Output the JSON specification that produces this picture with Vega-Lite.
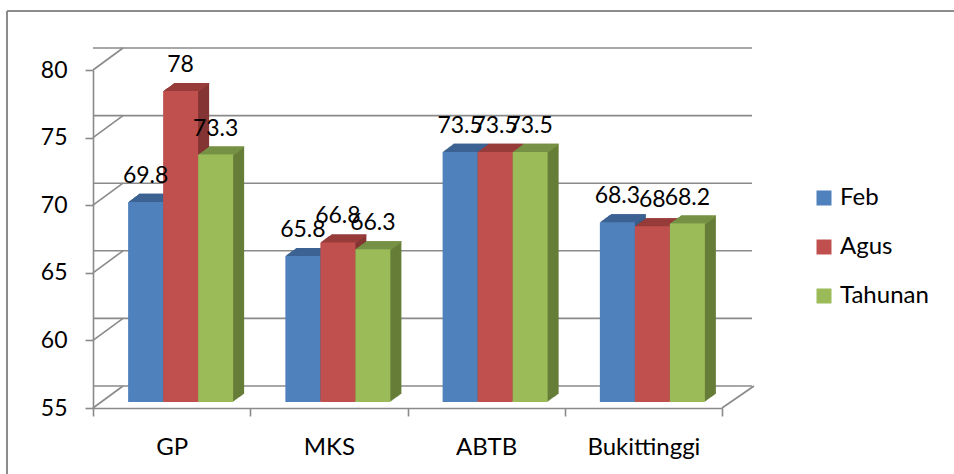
{
  "$schema": "https://vega.github.io/schema/vega-lite/v6.json",
  "autosize": "none",
  "width": 629,
  "height": 338,
  "padding": {"left": 93, "top": 70, "right": 232, "bottom": 66},
  "background": "white",
  "config": {"view": {"stroke": null}, "font": "Lato"},
  "datasets": {
    "vals": [
      {"region": "GP", "series": "Feb", "value": 69.8},
      {"region": "GP", "series": "Agus", "value": 78},
      {"region": "GP", "series": "Tahunan", "value": 73.3},
      {"region": "MKS", "series": "Feb", "value": 65.8},
      {"region": "MKS", "series": "Agus", "value": 66.8},
      {"region": "MKS", "series": "Tahunan", "value": 66.3},
      {"region": "ABTB", "series": "Feb", "value": 73.5},
      {"region": "ABTB", "series": "Agus", "value": 73.5},
      {"region": "ABTB", "series": "Tahunan", "value": 73.5},
      {"region": "Bukittinggi", "series": "Feb", "value": 68.3},
      {"region": "Bukittinggi", "series": "Agus", "value": 68},
      {"region": "Bukittinggi", "series": "Tahunan", "value": 68.2}
    ],
    "ticks": [{"t": 55}, {"t": 60}, {"t": 65}, {"t": 70}, {"t": 75}, {"t": 80}]
  },
  "data": {"name": "vals"},
  "resolve": {"scale": {"x": "independent", "xOffset": "independent"}, "axis": {"x": "independent"}},
  "layer": [
    {
      "description": "outer chart frame, top and left edges",
      "data": {"values": [{}]},
      "layer": [
        {"mark": {"type": "rule", "color": "#8c8c8c", "strokeWidth": 2},
         "encoding": {"x": {"value": -86}, "x2": {"value": -86}, "y": {"value": -59}, "y2": {"value": 404}}},
        {"mark": {"type": "rule", "color": "#8c8c8c", "strokeWidth": 2},
         "encoding": {"x": {"value": -86}, "x2": {"value": 861}, "y": {"value": -59}, "y2": {"value": -59}}}
      ]
    },
    {
      "description": "back wall gridlines and side wall diagonals",
      "data": {"name": "ticks"},
      "layer": [
        {"mark": {"type": "rule", "color": "#8a8a8a", "strokeWidth": 1.6, "xOffset": 30, "x2Offset": 30, "yOffset": -22},
         "encoding": {"y": {"field": "t", "type": "quantitative", "scale": {"domain": [55, 80], "nice": false, "zero": false}}}},
        {"mark": {"type": "rule", "color": "#8a8a8a", "strokeWidth": 1.6, "y2Offset": -22},
         "encoding": {"x": {"value": 0}, "x2": {"value": 30},
                      "y": {"field": "t", "type": "quantitative"}, "y2": {"field": "t"}}},
        {"transform": [{"filter": "datum.t === 55"}],
         "mark": {"type": "rule", "color": "#8a8a8a", "strokeWidth": 1.6, "y2Offset": -22},
         "encoding": {"x": {"value": 629}, "x2": {"value": 661},
                      "y": {"field": "t", "type": "quantitative"}, "y2": {"field": "t"}}}
      ]
    },
    {
      "description": "front plane carrying both axes (bars themselves are drawn further back)",
      "mark": {"type": "bar", "opacity": 0},
      "encoding": {
        "x": {"field": "region", "type": "nominal", "title": null,
              "scale": {"domain": ["GP", "MKS", "ABTB", "Bukittinggi"], "paddingInner": 0, "paddingOuter": 0, "range": [0, 629]},
              "axis": {"labelAngle": 0, "labelAlign": "center", "labelFont": "Lato", "labelFontSize": 24, "labelColor": "#000000",
                       "tickBand": "extent", "tickSize": 8, "tickColor": "#8a8a8a", "tickWidth": 1.6,
                       "domainColor": "#8a8a8a", "domainWidth": 1.6, "labelPadding": 19}},
        "y": {"field": "value", "type": "quantitative", "title": null,
              "scale": {"domain": [55, 80], "nice": false, "zero": false},
              "axis": {"values": [55, 60, 65, 70, 75, 80], "grid": false, "labelFont": "Lato", "labelFontSize": 23,
                       "labelColor": "#000000", "tickSize": 8, "tickColor": "#8a8a8a", "tickWidth": 1.6,
                       "domainColor": "#8a8a8a", "domainWidth": 1.6, "labelPadding": 18}},
        "y2": {"datum": 55}
      }
    },
    {"description": "depth slice 11",
     "encoding": {"x": {"field": "region", "type": "nominal", "axis": null, "scale": {"domain": ["GP", "MKS", "ABTB", "Bukittinggi"], "paddingInner": 0, "paddingOuter": 0, "range": [20, 649]}},
                  "xOffset": {"field": "series", "type": "nominal", "scale": {"domain": ["Feb", "Agus", "Tahunan"], "paddingInner": 0, "paddingOuter": 0.746}},
                  "y": {"field": "value", "type": "quantitative"}},
     "layer": [
       {"mark": {"type": "bar", "yOffset": -14.03, "y2Offset": -14.03},
        "encoding": {"y2": {"datum": 55}, "color": {"condition": [{"test": "datum.series === 'Feb'", "value": "#395d89"}, {"test": "datum.series === 'Agus'", "value": "#843533"}], "value": "#667d38"}}},
       {"mark": {"type": "bar", "yOffset": -14.03, "y2Offset": -12.73},
        "encoding": {"y2": {"field": "value"}, "color": {"condition": [{"test": "datum.series === 'Feb'", "value": "#3d6595"}, {"test": "datum.series === 'Agus'", "value": "#9c3f3d"}], "value": "#7b9748"}}}
     ]},
    {"description": "depth slice 10",
     "encoding": {"x": {"field": "region", "type": "nominal", "axis": null, "scale": {"domain": ["GP", "MKS", "ABTB", "Bukittinggi"], "paddingInner": 0, "paddingOuter": 0, "range": [19, 648]}},
                  "xOffset": {"field": "series", "type": "nominal", "scale": {"domain": ["Feb", "Agus", "Tahunan"], "paddingInner": 0, "paddingOuter": 0.746}},
                  "y": {"field": "value", "type": "quantitative"}},
     "layer": [
       {"mark": {"type": "bar", "yOffset": -13.3, "y2Offset": -13.3},
        "encoding": {"y2": {"datum": 55}, "color": {"condition": [{"test": "datum.series === 'Feb'", "value": "#395d89"}, {"test": "datum.series === 'Agus'", "value": "#843533"}], "value": "#667d38"}}},
       {"mark": {"type": "bar", "yOffset": -13.3, "y2Offset": -12.0},
        "encoding": {"y2": {"field": "value"}, "color": {"condition": [{"test": "datum.series === 'Feb'", "value": "#3d6595"}, {"test": "datum.series === 'Agus'", "value": "#9c3f3d"}], "value": "#7b9748"}}}
     ]},
    {"description": "depth slice 9",
     "encoding": {"x": {"field": "region", "type": "nominal", "axis": null, "scale": {"domain": ["GP", "MKS", "ABTB", "Bukittinggi"], "paddingInner": 0, "paddingOuter": 0, "range": [18, 647]}},
                  "xOffset": {"field": "series", "type": "nominal", "scale": {"domain": ["Feb", "Agus", "Tahunan"], "paddingInner": 0, "paddingOuter": 0.746}},
                  "y": {"field": "value", "type": "quantitative"}},
     "layer": [
       {"mark": {"type": "bar", "yOffset": -12.57, "y2Offset": -12.57},
        "encoding": {"y2": {"datum": 55}, "color": {"condition": [{"test": "datum.series === 'Feb'", "value": "#395d89"}, {"test": "datum.series === 'Agus'", "value": "#843533"}], "value": "#667d38"}}},
       {"mark": {"type": "bar", "yOffset": -12.57, "y2Offset": -11.27},
        "encoding": {"y2": {"field": "value"}, "color": {"condition": [{"test": "datum.series === 'Feb'", "value": "#3d6595"}, {"test": "datum.series === 'Agus'", "value": "#9c3f3d"}], "value": "#7b9748"}}}
     ]},
    {"description": "depth slice 8",
     "encoding": {"x": {"field": "region", "type": "nominal", "axis": null, "scale": {"domain": ["GP", "MKS", "ABTB", "Bukittinggi"], "paddingInner": 0, "paddingOuter": 0, "range": [17, 646]}},
                  "xOffset": {"field": "series", "type": "nominal", "scale": {"domain": ["Feb", "Agus", "Tahunan"], "paddingInner": 0, "paddingOuter": 0.746}},
                  "y": {"field": "value", "type": "quantitative"}},
     "layer": [
       {"mark": {"type": "bar", "yOffset": -11.84, "y2Offset": -11.84},
        "encoding": {"y2": {"datum": 55}, "color": {"condition": [{"test": "datum.series === 'Feb'", "value": "#395d89"}, {"test": "datum.series === 'Agus'", "value": "#843533"}], "value": "#667d38"}}},
       {"mark": {"type": "bar", "yOffset": -11.84, "y2Offset": -10.54},
        "encoding": {"y2": {"field": "value"}, "color": {"condition": [{"test": "datum.series === 'Feb'", "value": "#3d6595"}, {"test": "datum.series === 'Agus'", "value": "#9c3f3d"}], "value": "#7b9748"}}}
     ]},
    {"description": "depth slice 7",
     "encoding": {"x": {"field": "region", "type": "nominal", "axis": null, "scale": {"domain": ["GP", "MKS", "ABTB", "Bukittinggi"], "paddingInner": 0, "paddingOuter": 0, "range": [16, 645]}},
                  "xOffset": {"field": "series", "type": "nominal", "scale": {"domain": ["Feb", "Agus", "Tahunan"], "paddingInner": 0, "paddingOuter": 0.746}},
                  "y": {"field": "value", "type": "quantitative"}},
     "layer": [
       {"mark": {"type": "bar", "yOffset": -11.11, "y2Offset": -11.11},
        "encoding": {"y2": {"datum": 55}, "color": {"condition": [{"test": "datum.series === 'Feb'", "value": "#395d89"}, {"test": "datum.series === 'Agus'", "value": "#843533"}], "value": "#667d38"}}},
       {"mark": {"type": "bar", "yOffset": -11.11, "y2Offset": -9.81},
        "encoding": {"y2": {"field": "value"}, "color": {"condition": [{"test": "datum.series === 'Feb'", "value": "#3d6595"}, {"test": "datum.series === 'Agus'", "value": "#9c3f3d"}], "value": "#7b9748"}}}
     ]},
    {"description": "depth slice 6",
     "encoding": {"x": {"field": "region", "type": "nominal", "axis": null, "scale": {"domain": ["GP", "MKS", "ABTB", "Bukittinggi"], "paddingInner": 0, "paddingOuter": 0, "range": [15, 644]}},
                  "xOffset": {"field": "series", "type": "nominal", "scale": {"domain": ["Feb", "Agus", "Tahunan"], "paddingInner": 0, "paddingOuter": 0.746}},
                  "y": {"field": "value", "type": "quantitative"}},
     "layer": [
       {"mark": {"type": "bar", "yOffset": -10.38, "y2Offset": -10.38},
        "encoding": {"y2": {"datum": 55}, "color": {"condition": [{"test": "datum.series === 'Feb'", "value": "#395d89"}, {"test": "datum.series === 'Agus'", "value": "#843533"}], "value": "#667d38"}}},
       {"mark": {"type": "bar", "yOffset": -10.38, "y2Offset": -9.08},
        "encoding": {"y2": {"field": "value"}, "color": {"condition": [{"test": "datum.series === 'Feb'", "value": "#3d6595"}, {"test": "datum.series === 'Agus'", "value": "#9c3f3d"}], "value": "#7b9748"}}}
     ]},
    {"description": "depth slice 5",
     "encoding": {"x": {"field": "region", "type": "nominal", "axis": null, "scale": {"domain": ["GP", "MKS", "ABTB", "Bukittinggi"], "paddingInner": 0, "paddingOuter": 0, "range": [14, 643]}},
                  "xOffset": {"field": "series", "type": "nominal", "scale": {"domain": ["Feb", "Agus", "Tahunan"], "paddingInner": 0, "paddingOuter": 0.746}},
                  "y": {"field": "value", "type": "quantitative"}},
     "layer": [
       {"mark": {"type": "bar", "yOffset": -9.65, "y2Offset": -9.65},
        "encoding": {"y2": {"datum": 55}, "color": {"condition": [{"test": "datum.series === 'Feb'", "value": "#395d89"}, {"test": "datum.series === 'Agus'", "value": "#843533"}], "value": "#667d38"}}},
       {"mark": {"type": "bar", "yOffset": -9.65, "y2Offset": -8.35},
        "encoding": {"y2": {"field": "value"}, "color": {"condition": [{"test": "datum.series === 'Feb'", "value": "#3d6595"}, {"test": "datum.series === 'Agus'", "value": "#9c3f3d"}], "value": "#7b9748"}}}
     ]},
    {"description": "depth slice 4",
     "encoding": {"x": {"field": "region", "type": "nominal", "axis": null, "scale": {"domain": ["GP", "MKS", "ABTB", "Bukittinggi"], "paddingInner": 0, "paddingOuter": 0, "range": [13, 642]}},
                  "xOffset": {"field": "series", "type": "nominal", "scale": {"domain": ["Feb", "Agus", "Tahunan"], "paddingInner": 0, "paddingOuter": 0.746}},
                  "y": {"field": "value", "type": "quantitative"}},
     "layer": [
       {"mark": {"type": "bar", "yOffset": -8.92, "y2Offset": -8.92},
        "encoding": {"y2": {"datum": 55}, "color": {"condition": [{"test": "datum.series === 'Feb'", "value": "#395d89"}, {"test": "datum.series === 'Agus'", "value": "#843533"}], "value": "#667d38"}}},
       {"mark": {"type": "bar", "yOffset": -8.92, "y2Offset": -7.62},
        "encoding": {"y2": {"field": "value"}, "color": {"condition": [{"test": "datum.series === 'Feb'", "value": "#3d6595"}, {"test": "datum.series === 'Agus'", "value": "#9c3f3d"}], "value": "#7b9748"}}}
     ]},
    {"description": "depth slice 3",
     "encoding": {"x": {"field": "region", "type": "nominal", "axis": null, "scale": {"domain": ["GP", "MKS", "ABTB", "Bukittinggi"], "paddingInner": 0, "paddingOuter": 0, "range": [12, 641]}},
                  "xOffset": {"field": "series", "type": "nominal", "scale": {"domain": ["Feb", "Agus", "Tahunan"], "paddingInner": 0, "paddingOuter": 0.746}},
                  "y": {"field": "value", "type": "quantitative"}},
     "layer": [
       {"mark": {"type": "bar", "yOffset": -8.19, "y2Offset": -8.19},
        "encoding": {"y2": {"datum": 55}, "color": {"condition": [{"test": "datum.series === 'Feb'", "value": "#395d89"}, {"test": "datum.series === 'Agus'", "value": "#843533"}], "value": "#667d38"}}},
       {"mark": {"type": "bar", "yOffset": -8.19, "y2Offset": -6.89},
        "encoding": {"y2": {"field": "value"}, "color": {"condition": [{"test": "datum.series === 'Feb'", "value": "#3d6595"}, {"test": "datum.series === 'Agus'", "value": "#9c3f3d"}], "value": "#7b9748"}}}
     ]},
    {"description": "depth slice 2",
     "encoding": {"x": {"field": "region", "type": "nominal", "axis": null, "scale": {"domain": ["GP", "MKS", "ABTB", "Bukittinggi"], "paddingInner": 0, "paddingOuter": 0, "range": [11, 640]}},
                  "xOffset": {"field": "series", "type": "nominal", "scale": {"domain": ["Feb", "Agus", "Tahunan"], "paddingInner": 0, "paddingOuter": 0.746}},
                  "y": {"field": "value", "type": "quantitative"}},
     "layer": [
       {"mark": {"type": "bar", "yOffset": -7.46, "y2Offset": -7.46},
        "encoding": {"y2": {"datum": 55}, "color": {"condition": [{"test": "datum.series === 'Feb'", "value": "#395d89"}, {"test": "datum.series === 'Agus'", "value": "#843533"}], "value": "#667d38"}}},
       {"mark": {"type": "bar", "yOffset": -7.46, "y2Offset": -6.16},
        "encoding": {"y2": {"field": "value"}, "color": {"condition": [{"test": "datum.series === 'Feb'", "value": "#3d6595"}, {"test": "datum.series === 'Agus'", "value": "#9c3f3d"}], "value": "#7b9748"}}}
     ]},
    {"description": "depth slice 1",
     "encoding": {"x": {"field": "region", "type": "nominal", "axis": null, "scale": {"domain": ["GP", "MKS", "ABTB", "Bukittinggi"], "paddingInner": 0, "paddingOuter": 0, "range": [10, 639]}},
                  "xOffset": {"field": "series", "type": "nominal", "scale": {"domain": ["Feb", "Agus", "Tahunan"], "paddingInner": 0, "paddingOuter": 0.746}},
                  "y": {"field": "value", "type": "quantitative"}},
     "layer": [
       {"mark": {"type": "bar", "yOffset": -6.73, "y2Offset": -6.73},
        "encoding": {"y2": {"datum": 55}, "color": {"condition": [{"test": "datum.series === 'Feb'", "value": "#395d89"}, {"test": "datum.series === 'Agus'", "value": "#843533"}], "value": "#667d38"}}},
       {"mark": {"type": "bar", "yOffset": -6.73, "y2Offset": -5.43},
        "encoding": {"y2": {"field": "value"}, "color": {"condition": [{"test": "datum.series === 'Feb'", "value": "#3d6595"}, {"test": "datum.series === 'Agus'", "value": "#9c3f3d"}], "value": "#7b9748"}}}
     ]},
    {
      "description": "front faces of the bars, value labels and legend",
      "encoding": {
        "x": {"field": "region", "type": "nominal", "axis": null,
              "scale": {"domain": ["GP", "MKS", "ABTB", "Bukittinggi"], "paddingInner": 0, "paddingOuter": 0, "range": [9, 638]}},
        "xOffset": {"field": "series", "type": "nominal", "scale": {"domain": ["Feb", "Agus", "Tahunan"], "paddingInner": 0, "paddingOuter": 0.746}},
        "y": {"field": "value", "type": "quantitative"}
      },
      "layer": [
        {"mark": {"type": "bar", "yOffset": -6, "y2Offset": -6},
         "encoding": {
           "y2": {"datum": 55},
           "color": {"field": "series", "type": "nominal",
                     "scale": {"domain": ["Feb", "Agus", "Tahunan"], "range": ["#4f81bd", "#c0504d", "#9bbb59"]},
                     "legend": {"title": null, "orient": "none", "legendX": 719, "legendY": 116, "padding": 0,
                                "symbolType": "square", "symbolSize": 225, "symbolStrokeWidth": 0,
                                "labelFont": "Lato", "labelFontSize": 24, "labelColor": "#000000",
                                "labelOffset": 4, "rowPadding": 25}}}},
        {"mark": {"type": "text", "font": "Lato", "fontSize": 23, "color": "#000000", "dy": -25, "baseline": "alphabetic", "align": "center"},
         "encoding": {"text": {"field": "value", "type": "quantitative"}}}
      ]
    }
  ]
}
